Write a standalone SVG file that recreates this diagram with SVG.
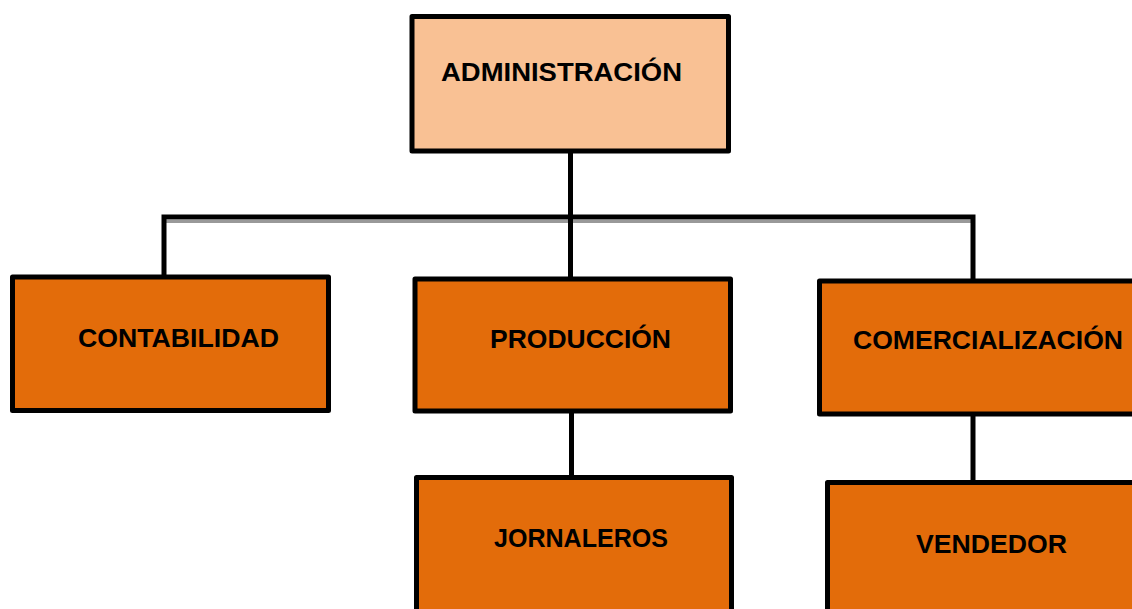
<svg xmlns="http://www.w3.org/2000/svg" width="1132" height="609" viewBox="0 0 1132 609">
<style>
.box{stroke:#000;stroke-width:5;stroke-linejoin:round;fill:#E36C0A}
.top{fill:#F9C194}
.lbl{font-family:"Liberation Sans",Arial,sans-serif;font-weight:bold;font-size:26px;fill:#000}
.ln{stroke:#000;stroke-width:5;fill:none}
</style>
<rect width="1132" height="609" fill="#fff"/>
<g id="connectors">
<line x1="164" y1="221.5" x2="973" y2="221.5" stroke="#999" stroke-width="3"/>
<path class="ln" d="M164 277 V217 H973 V279"/>
<line class="ln" x1="570.5" y1="151" x2="570.5" y2="278"/>
<line class="ln" x1="571.5" y1="413" x2="571.5" y2="477"/>
<line class="ln" x1="973" y1="415" x2="973" y2="481"/>
</g>
<g id="administracion">
<rect class="box top" x="412" y="16.5" width="316.5" height="134.5"/>
<text class="lbl" x="441" y="81" textLength="241" lengthAdjust="spacingAndGlyphs">ADMINISTRACIÓN</text>
</g>
<g id="contabilidad">
<rect class="box" x="12.5" y="277" width="316" height="133.5"/>
<text class="lbl" x="78" y="347" textLength="201" lengthAdjust="spacingAndGlyphs">CONTABILIDAD</text>
</g>
<g id="produccion">
<rect class="box" x="415" y="279" width="315.5" height="132"/>
<text class="lbl" x="490" y="348" textLength="181" lengthAdjust="spacingAndGlyphs">PRODUCCIÓN</text>
</g>
<g id="comercializacion">
<rect class="box" x="819.5" y="281" width="330" height="133"/>
<text class="lbl" x="853" y="349" textLength="270" lengthAdjust="spacingAndGlyphs">COMERCIALIZACIÓN</text>
</g>
<g id="jornaleros">
<rect class="box" x="416.5" y="477.5" width="315" height="150"/>
<text class="lbl" x="494" y="547" textLength="174" lengthAdjust="spacingAndGlyphs">JORNALEROS</text>
</g>
<g id="vendedor">
<rect class="box" x="827.5" y="482.5" width="330" height="150"/>
<text class="lbl" x="916" y="553" textLength="151" lengthAdjust="spacingAndGlyphs">VENDEDOR</text>
</g>
</svg>
